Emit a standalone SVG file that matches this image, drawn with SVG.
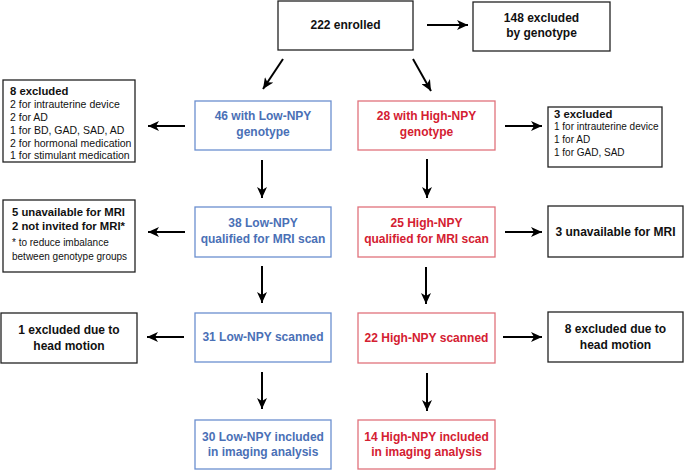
<svg xmlns="http://www.w3.org/2000/svg" width="685" height="470" viewBox="0 0 685 470">
<defs>
<marker id="ah" markerUnits="userSpaceOnUse" markerWidth="12" markerHeight="10" refX="11" refY="5" orient="auto">
<path d="M0,0 L11,5 L0,10 L3,5 Z" fill="#000"/>
</marker>
<style>
text{font-family:"Liberation Sans",Arial,sans-serif;}
.b{fill:#fff;stroke:#222;stroke-width:1.3;}
.lo{fill:#fff;stroke:#6b8fcf;stroke-width:1.3;}
.hi{fill:#fff;stroke:#e0727c;stroke-width:1.3;}
.t{font-size:12px;font-weight:bold;text-anchor:middle;fill:#111;}
.tl{font-weight:bold;font-size:12px;fill:#4a70b6;text-anchor:middle;}
.th{font-weight:bold;font-size:12px;fill:#d42031;text-anchor:middle;}
.s{font-size:10.5px;fill:#111;}
.s2{font-size:10px;fill:#111;}
.sb{font-size:11.3px;font-weight:bold;fill:#111;}
.c line{stroke:#000;stroke-width:2;marker-end:url(#ah);}
</style>
</defs>
<g class="c" id="connectors">
<line x1="427" y1="25" x2="468" y2="25"/>
<line x1="283" y1="59" x2="263" y2="89"/>
<line x1="413" y1="59" x2="431" y2="91"/>
<line x1="185" y1="126" x2="148" y2="126"/>
<line x1="505" y1="126" x2="542" y2="126"/>
<line x1="262" y1="160" x2="262" y2="198"/>
<line x1="427" y1="159" x2="427" y2="198"/>
<line x1="185" y1="232" x2="148" y2="232"/>
<line x1="505" y1="232" x2="542" y2="232"/>
<line x1="262" y1="266" x2="262" y2="303"/>
<line x1="426" y1="267" x2="426" y2="304"/>
<line x1="184" y1="337" x2="147" y2="337"/>
<line x1="503" y1="337" x2="542" y2="337"/>
<line x1="262" y1="372" x2="262" y2="409"/>
<line x1="427" y1="373" x2="427" y2="411"/>
</g>
<g id="enrolled"><rect class="b" x="278" y="1" width="135" height="49"/><text class="t" x="345.5" y="29">222 enrolled</text></g>
<g id="excl148"><rect class="b" x="473" y="2" width="137" height="49"/><text class="t" x="541.5" y="22">148 excluded</text><text class="t" x="541.5" y="37">by genotype</text></g>
<g id="low46"><rect class="lo" x="195" y="101" width="136" height="49"/><text class="tl" x="263" y="120">46 with Low-NPY</text><text class="tl" x="263" y="136">genotype</text></g>
<g id="high28"><rect class="hi" x="358" y="101" width="137" height="49"/><text class="th" x="426.5" y="120">28 with High-NPY</text><text class="th" x="426.5" y="136">genotype</text></g>
<g id="excl8"><rect class="b" x="3" y="80" width="132" height="82"/>
<text class="sb" x="10" y="95">8 excluded</text>
<text class="s" x="10" y="108">2 for intrauterine device</text>
<text class="s" x="10" y="121">2 for AD</text>
<text class="s" x="10" y="134">1 for BD, GAD, SAD, AD</text>
<text class="s" x="10" y="147">2 for hormonal medication</text>
<text class="s" x="10" y="159">1 for stimulant medication</text></g>
<g id="excl3"><rect class="b" x="548" y="107" width="114" height="60"/>
<text class="sb" x="554" y="118">3 excluded</text>
<text class="s2" x="554" y="130">1 for intrauterine device</text>
<text class="s2" x="554" y="143">1 for AD</text>
<text class="s2" x="554" y="156">1 for GAD, SAD</text></g>
<g id="low38"><rect class="lo" x="195" y="207" width="136" height="50"/><text class="tl" x="263" y="227">38 Low-NPY</text><text class="tl" x="263" y="243">qualified for MRI scan</text></g>
<g id="high25"><rect class="hi" x="358" y="207" width="137" height="50"/><text class="th" x="426.5" y="227">25 High-NPY</text><text class="th" x="426.5" y="243">qualified for MRI scan</text></g>
<g id="unavail5"><rect class="b" x="3" y="200" width="132" height="72"/>
<text class="sb" x="12" y="216">5 unavailable for MRI</text>
<text class="sb" x="12" y="230">2 not invited for MRI*</text>
<text class="s2" x="12" y="246">* to reduce imbalance</text>
<text class="s2" x="12" y="260">between genotype groups</text></g>
<g id="unavail3"><rect class="b" x="548" y="206" width="135" height="51"/><text class="t" x="615.5" y="236">3 unavailable for MRI</text></g>
<g id="low31"><rect class="lo" x="195" y="313" width="136" height="49"/><text class="tl" x="263" y="341">31 Low-NPY scanned</text></g>
<g id="high22"><rect class="hi" x="358" y="313" width="137" height="50"/><text class="th" x="426.5" y="342">22 High-NPY scanned</text></g>
<g id="motion1"><rect class="b" x="1" y="313" width="136" height="50"/><text class="t" x="69" y="334">1 excluded due to</text><text class="t" x="69" y="350">head motion</text></g>
<g id="motion8"><rect class="b" x="548" y="312" width="135" height="50"/><text class="t" x="615.5" y="333">8 excluded due to</text><text class="t" x="615.5" y="349">head motion</text></g>
<g id="low30"><rect class="lo" x="195" y="420" width="136" height="49"/><text class="tl" x="263" y="441">30 Low-NPY included</text><text class="tl" x="263" y="456">in imaging analysis</text></g>
<g id="high14"><rect class="hi" x="358" y="420" width="137" height="49"/><text class="th" x="426.5" y="441">14 High-NPY included</text><text class="th" x="426.5" y="456">in imaging analysis</text></g>
</svg>
